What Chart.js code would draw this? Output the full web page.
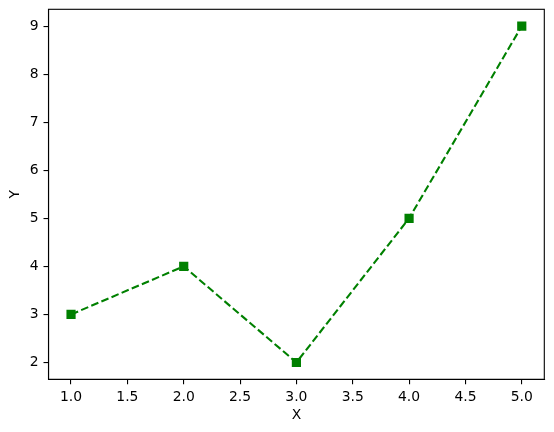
<!DOCTYPE html>
<html>
<head>
<meta charset="utf-8">
<script src="https://cdn.jsdelivr.net/npm/chart.js@4.4.1/dist/chart.umd.min.js"></script>
<style>
  html, body { margin: 0; padding: 0; background: #fff; }
  #wrap { width: 554px; height: 432px; position: relative; }
</style>
</head>
<body>
<div id="wrap"><canvas id="chart"></canvas></div>
<script>
// data
const xValues = [1, 2, 3, 4, 5]
const yValues = [3, 4, 2, 5, 9]
const xTicks = [1.0, 1.5, 2.0, 2.5, 3.0, 3.5, 4.0, 4.5, 5.0]
const yTicks = [2, 3, 4, 5, 6, 7, 8, 9]

const font = { family: 'DejaVu Sans', size: 13.9 }

// frame on top and right, like the matplotlib axes box
const frame = {
  id: 'frame',
  afterDraw (chart) {
    const { ctx, chartArea: a } = chart
    ctx.save()
    ctx.strokeStyle = '#000'
    ctx.lineWidth = 1.1
    ctx.strokeRect(a.left, a.top, a.right - a.left, a.bottom - a.top)
    ctx.restore()
  }
}

const axisCommon = {
  type: 'linear',
  grid: { display: true, drawOnChartArea: false, drawTicks: true, tickLength: 5, color: '#000', lineWidth: 1.1 },
  border: { display: true, color: '#000', width: 1.1 },
  ticks: { color: '#000', font, padding: 5, includeBounds: false, autoSkip: false, maxRotation: 0 }
}

new Chart(document.getElementById('chart'), {
  type: 'line',
  data: {
    datasets: [{
      data: xValues.map((x, i) => ({ x, y: yValues[i] })),
      borderColor: '#008000',
      backgroundColor: '#008000',
      borderWidth: 2.1,
      borderDash: [7.7, 3.3],
      pointStyle: 'rect',
      pointRadius: 6.5,
      pointBorderWidth: 0,
      tension: 0,
      fill: false
    }]
  },
  options: {
    responsive: true,
    maintainAspectRatio: false,
    animation: false,
    devicePixelRatio: 1,
    layout: { padding: { top: 9.3, right: 9.7, left: 0, bottom: 0 } },
    plugins: { legend: { display: false }, tooltip: { enabled: false } },
    scales: {
      x: {
        ...axisCommon,
        position: 'bottom',
        min: 0.8,
        max: 5.2,
        ticks: { ...axisCommon.ticks, stepSize: 0.5, callback: v => xTicks.includes(v) ? v.toFixed(1) : null },
        title: { display: true, text: 'X', color: '#000', font, padding: { top: 0, bottom: 8.7 } },
        afterFit (s) { s.height = 52.7; s.paddingLeft = 0; s.paddingRight = 0 }
      },
      y: {
        ...axisCommon,
        position: 'left',
        min: 1.65,
        max: 9.35,
        ticks: { ...axisCommon.ticks, stepSize: 1, callback: v => yTicks.includes(v) ? String(v) : null },
        title: { display: true, text: 'Y', color: '#000', font, padding: { top: 6.7, bottom: 0 } },
        afterFit (s) { s.width = 48.5; s.paddingTop = 0; s.paddingBottom = 0 }
      }
    }
  },
  plugins: [frame]
})
</script>
</body>
</html>
